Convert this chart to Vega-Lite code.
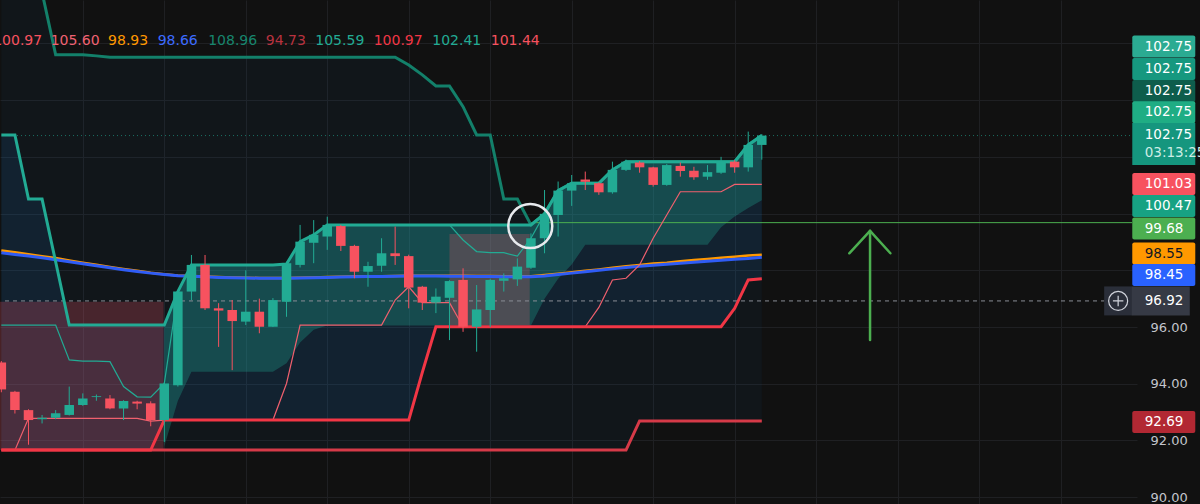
{
"$schema": "https://vega.github.io/schema/vega-lite/v6.json",
"width": 1137, "height": 504,
"autosize": {"type": "none"},
"padding": {"left": 0, "top": 0, "right": 63, "bottom": 0},
"background": "#111111",
"config": {"view": {"stroke": null}, "font": "DejaVu Sans"},
"data": {"values": [{}]},
"resolve": {"scale": {"color": "independent"}},
"datasets": {
"candles": [
{"i":-1,"o":94.75,"h":94.8,"l":93.7,"c":93.8},
{"i":0,"o":93.72,"h":93.75,"l":92.95,"c":93.07},
{"i":1,"o":93.07,"h":93.1,"l":91.85,"c":92.72},
{"i":2,"o":92.75,"h":92.9,"l":92.6,"c":92.8},
{"i":3,"o":92.8,"h":93.07,"l":92.75,"c":92.96},
{"i":4,"o":92.9,"h":93.9,"l":92.88,"c":93.25},
{"i":5,"o":93.25,"h":93.66,"l":93.22,"c":93.48},
{"i":6,"o":93.53,"h":93.62,"l":93.4,"c":93.56},
{"i":7,"o":93.48,"h":93.6,"l":93.1,"c":93.13},
{"i":8,"o":93.13,"h":93.42,"l":92.72,"c":93.39},
{"i":9,"o":93.37,"h":93.4,"l":93.1,"c":93.3},
{"i":10,"o":93.31,"h":93.38,"l":92.5,"c":92.72},
{"i":11,"o":92.72,"h":94.05,"l":91.95,"c":94.01},
{"i":12,"o":93.95,"h":97.3,"l":93.9,"c":97.25},
{"i":13,"o":97.25,"h":98.54,"l":96.95,"c":98.19},
{"i":14,"o":98.19,"h":98.54,"l":96.6,"c":96.66},
{"i":15,"o":96.66,"h":96.84,"l":95.3,"c":96.58},
{"i":16,"o":96.6,"h":96.95,"l":94.48,"c":96.21},
{"i":17,"o":96.19,"h":98.0,"l":96.07,"c":96.54},
{"i":18,"o":96.54,"h":97.0,"l":95.78,"c":96.01},
{"i":19,"o":96.01,"h":97.02,"l":96.0,"c":96.95},
{"i":20,"o":96.89,"h":98.3,"l":96.36,"c":98.25},
{"i":21,"o":98.19,"h":99.6,"l":98.1,"c":99.01},
{"i":22,"o":98.97,"h":99.77,"l":98.25,"c":99.25},
{"i":23,"o":99.19,"h":99.89,"l":98.72,"c":99.6},
{"i":24,"o":99.56,"h":99.6,"l":98.68,"c":98.86},
{"i":25,"o":98.86,"h":98.9,"l":97.72,"c":97.95},
{"i":26,"o":97.95,"h":98.3,"l":97.42,"c":98.15},
{"i":27,"o":98.16,"h":99.13,"l":97.95,"c":98.6},
{"i":28,"o":98.6,"h":99.54,"l":98.19,"c":98.5},
{"i":29,"o":98.5,"h":98.55,"l":96.66,"c":97.39},
{"i":30,"o":97.42,"h":97.45,"l":96.6,"c":96.86},
{"i":31,"o":96.86,"h":97.36,"l":96.49,"c":97.07},
{"i":32,"o":97.03,"h":97.65,"l":95.54,"c":97.62},
{"i":33,"o":97.66,"h":98.07,"l":95.83,"c":96.01},
{"i":34,"o":96.01,"h":97.48,"l":95.13,"c":96.62},
{"i":35,"o":96.6,"h":97.7,"l":96.0,"c":97.66},
{"i":36,"o":97.63,"h":97.89,"l":97.25,"c":97.72},
{"i":37,"o":97.68,"h":98.42,"l":97.45,"c":98.13},
{"i":38,"o":98.09,"h":99.3,"l":98.05,"c":99.13},
{"i":39,"o":99.13,"h":100.83,"l":98.6,"c":99.99},
{"i":40,"o":99.95,"h":101.13,"l":99.19,"c":100.81},
{"i":41,"o":100.81,"h":101.36,"l":100.27,"c":101.07},
{"i":42,"o":101.2,"h":101.48,"l":100.83,"c":101.12},
{"i":43,"o":101.07,"h":101.1,"l":100.66,"c":100.75},
{"i":44,"o":100.75,"h":101.83,"l":100.7,"c":101.54},
{"i":45,"o":101.54,"h":101.9,"l":101.5,"c":101.83},
{"i":46,"o":101.8,"h":101.85,"l":101.44,"c":101.63},
{"i":47,"o":101.63,"h":101.65,"l":100.95,"c":101.01},
{"i":48,"o":101.01,"h":101.75,"l":100.98,"c":101.71},
{"i":49,"o":101.68,"h":101.8,"l":101.3,"c":101.5},
{"i":50,"o":101.51,"h":101.65,"l":101.19,"c":101.28},
{"i":51,"o":101.3,"h":101.71,"l":101.19,"c":101.46},
{"i":52,"o":101.44,"h":102.0,"l":101.4,"c":101.83},
{"i":53,"o":101.83,"h":101.88,"l":101.44,"c":101.63},
{"i":54,"o":101.63,"h":102.89,"l":101.48,"c":102.42},
{"i":55,"o":102.42,"h":102.8,"l":101.9,"c":102.75}
],
"ch": [
{"i":-1,"u1":108.96,"u2":102.77,"t":96.07,"r1":91.66,"r2":91.66,"p":91.66,"b":98.62,"o":98.7},
{"i":0,"u1":108.96,"u2":102.77,"t":96.07,"r1":91.66,"r2":91.66,"p":91.66,"b":98.56,"o":98.64},
{"i":1,"u1":108.96,"u2":100.51,"t":96.07,"r1":91.66,"r2":91.66,"p":92.78,"b":98.5,"o":98.57},
{"i":2,"u1":107.8,"u2":100.51,"t":96.07,"r1":91.66,"r2":91.66,"p":92.78,"b":98.44,"o":98.5},
{"i":3,"u1":105.6,"u2":98.3,"t":96.07,"r1":91.66,"r2":91.66,"p":92.78,"b":98.37,"o":98.43},
{"i":4,"u1":105.6,"u2":96.07,"t":94.84,"r1":91.66,"r2":91.66,"p":92.78,"b":98.3,"o":98.35},
{"i":5,"u1":105.6,"u2":96.07,"t":94.8,"r1":91.66,"r2":91.66,"p":92.78,"b":98.23,"o":98.27},
{"i":6,"u1":105.56,"u2":96.07,"t":94.8,"r1":91.66,"r2":91.66,"p":92.78,"b":98.16,"o":98.2},
{"i":7,"u1":105.51,"u2":96.07,"t":94.78,"r1":91.66,"r2":91.66,"p":92.78,"b":98.09,"o":98.12},
{"i":8,"u1":105.51,"u2":96.07,"t":93.9,"r1":91.66,"r2":91.66,"p":92.78,"b":98.02,"o":98.05},
{"i":9,"u1":105.51,"u2":96.07,"t":93.54,"r1":91.66,"r2":91.66,"p":92.78,"b":97.96,"o":97.98},
{"i":10,"u1":105.51,"u2":96.07,"t":93.53,"r1":91.66,"r2":91.66,"p":92.68,"b":97.9,"o":97.91},
{"i":11,"u1":105.51,"u2":96.07,"t":94.01,"r1":91.66,"r2":92.72,"p":92.72,"b":97.85,"o":97.86},
{"i":12,"u1":105.51,"u2":97.25,"t":97.25,"r1":91.66,"r2":92.72,"p":92.72,"b":97.81,"o":97.82},
{"i":13,"u1":105.51,"u2":98.19,"t":98.19,"r1":91.66,"r2":92.72,"p":92.72,"b":97.79,"o":97.8},
{"i":14,"u1":105.51,"u2":98.19,"t":98.19,"r1":91.66,"r2":92.72,"p":92.72,"b":97.77,"o":97.78},
{"i":15,"u1":105.51,"u2":98.19,"t":98.19,"r1":91.66,"r2":92.72,"p":92.72,"b":97.75,"o":97.76},
{"i":16,"u1":105.51,"u2":98.19,"t":98.19,"r1":91.66,"r2":92.72,"p":92.72,"b":97.74,"o":97.75},
{"i":17,"u1":105.51,"u2":98.19,"t":98.19,"r1":91.66,"r2":92.72,"p":92.72,"b":97.73,"o":97.74},
{"i":18,"u1":105.51,"u2":98.19,"t":98.19,"r1":91.66,"r2":92.72,"p":92.72,"b":97.72,"o":97.73},
{"i":19,"u1":105.51,"u2":98.19,"t":98.19,"r1":91.66,"r2":92.72,"p":92.72,"b":97.72,"o":97.73},
{"i":20,"u1":105.51,"u2":98.22,"t":98.22,"r1":91.66,"r2":92.72,"p":94.01,"b":97.72,"o":97.73},
{"i":21,"u1":105.51,"u2":99.01,"t":99.01,"r1":91.66,"r2":92.72,"p":96.07,"b":97.73,"o":97.74},
{"i":22,"u1":105.51,"u2":99.25,"t":99.25,"r1":91.66,"r2":92.72,"p":96.07,"b":97.74,"o":97.75},
{"i":23,"u1":105.51,"u2":99.6,"t":99.6,"r1":91.66,"r2":92.72,"p":96.07,"b":97.75,"o":97.76},
{"i":24,"u1":105.51,"u2":99.6,"t":99.6,"r1":91.66,"r2":92.72,"p":96.07,"b":97.76,"o":97.77},
{"i":25,"u1":105.51,"u2":99.6,"t":99.6,"r1":91.66,"r2":92.72,"p":96.07,"b":97.77,"o":97.78},
{"i":26,"u1":105.51,"u2":99.6,"t":99.6,"r1":91.66,"r2":92.72,"p":96.07,"b":97.78,"o":97.79},
{"i":27,"u1":105.51,"u2":99.6,"t":99.6,"r1":91.66,"r2":92.72,"p":96.07,"b":97.78,"o":97.79},
{"i":28,"u1":105.51,"u2":99.6,"t":99.6,"r1":91.66,"r2":92.72,"p":96.95,"b":97.79,"o":97.8},
{"i":29,"u1":105.24,"u2":99.6,"t":99.6,"r1":91.66,"r2":92.72,"p":97.42,"b":97.8,"o":97.81},
{"i":30,"u1":104.89,"u2":99.6,"t":99.6,"r1":91.66,"r2":94.4,"p":96.86,"b":97.8,"o":97.81},
{"i":31,"u1":104.5,"u2":99.6,"t":99.6,"r1":91.66,"r2":96.01,"p":96.86,"b":97.8,"o":97.81},
{"i":32,"u1":104.5,"u2":99.6,"t":99.6,"r1":91.66,"r2":96.01,"p":96.86,"b":97.79,"o":97.81},
{"i":33,"u1":103.77,"u2":99.6,"t":99.07,"r1":91.66,"r2":96.01,"p":96.01,"b":97.79,"o":97.81},
{"i":34,"u1":102.77,"u2":99.6,"t":98.66,"r1":91.66,"r2":96.01,"p":96.01,"b":97.78,"o":97.8},
{"i":35,"u1":102.77,"u2":99.6,"t":98.62,"r1":91.66,"r2":96.01,"p":96.01,"b":97.78,"o":97.8},
{"i":36,"u1":100.51,"u2":99.6,"t":98.62,"r1":91.66,"r2":96.01,"p":96.01,"b":97.77,"o":97.79},
{"i":37,"u1":100.51,"u2":99.6,"t":98.5,"r1":91.66,"r2":96.01,"p":96.01,"b":97.77,"o":97.79},
{"i":38,"u1":99.6,"u2":99.6,"t":99.13,"r1":91.66,"r2":96.01,"p":96.01,"b":97.77,"o":97.79},
{"i":39,"u1":99.99,"u2":99.99,"t":99.99,"r1":91.66,"r2":96.01,"p":96.01,"b":97.8,"o":97.83},
{"i":40,"u1":100.81,"u2":100.81,"t":100.81,"r1":91.66,"r2":96.01,"p":96.01,"b":97.85,"o":97.88},
{"i":41,"u1":101.07,"u2":101.07,"t":101.07,"r1":91.66,"r2":96.01,"p":96.01,"b":97.9,"o":97.93},
{"i":42,"u1":101.07,"u2":101.07,"t":101.07,"r1":91.66,"r2":96.01,"p":96.01,"b":97.95,"o":97.98},
{"i":43,"u1":101.07,"u2":101.07,"t":101.07,"r1":91.66,"r2":96.01,"p":96.69,"b":98.0,"o":98.03},
{"i":44,"u1":101.54,"u2":101.54,"t":101.54,"r1":91.66,"r2":96.01,"p":97.66,"b":98.05,"o":98.09},
{"i":45,"u1":101.83,"u2":101.83,"t":101.83,"r1":91.66,"r2":96.01,"p":97.72,"b":98.1,"o":98.14},
{"i":46,"u1":101.83,"u2":101.83,"t":101.83,"r1":92.69,"r2":96.01,"p":98.19,"b":98.14,"o":98.19},
{"i":47,"u1":101.83,"u2":101.83,"t":101.83,"r1":92.69,"r2":96.01,"p":99.13,"b":98.18,"o":98.24},
{"i":48,"u1":101.83,"u2":101.83,"t":101.83,"r1":92.69,"r2":96.01,"p":99.95,"b":98.21,"o":98.27},
{"i":49,"u1":101.83,"u2":101.83,"t":101.83,"r1":92.69,"r2":96.01,"p":100.77,"b":98.25,"o":98.32},
{"i":50,"u1":101.83,"u2":101.83,"t":101.83,"r1":92.69,"r2":96.01,"p":100.77,"b":98.28,"o":98.36},
{"i":51,"u1":101.83,"u2":101.83,"t":101.83,"r1":92.69,"r2":96.01,"p":100.77,"b":98.32,"o":98.4},
{"i":52,"u1":101.83,"u2":101.83,"t":101.83,"r1":92.69,"r2":96.01,"p":100.77,"b":98.35,"o":98.44},
{"i":53,"u1":101.83,"u2":101.83,"t":101.83,"r1":92.69,"r2":96.66,"p":101.03,"b":98.39,"o":98.48},
{"i":54,"u1":102.42,"u2":102.42,"t":102.42,"r1":92.69,"r2":97.66,"p":101.03,"b":98.42,"o":98.52},
{"i":55,"u1":102.75,"u2":102.75,"t":102.75,"r1":92.69,"r2":97.7,"p":101.03,"b":98.46,"o":98.55}
],
"mid": [
{"i":11,"u2":96.07,"m":91.8},{"i":12,"u2":97.25,"m":93.4},{"i":13,"u2":98.19,"m":94.42},
{"i":19,"u2":98.19,"m":94.42},{"i":20,"u2":98.22,"m":94.72},{"i":21,"u2":99.01,"m":95.45},
{"i":22,"u2":99.25,"m":95.9},{"i":23,"u2":99.6,"m":96.05},{"i":38,"u2":99.6,"m":96.05},
{"i":39,"u2":99.99,"m":97.0},{"i":40,"u2":100.81,"m":97.7},{"i":41,"u2":101.07,"m":98.2},
{"i":42,"u2":101.07,"m":98.9},{"i":43,"u2":101.07,"m":98.9},{"i":44,"u2":101.54,"m":98.9},
{"i":45,"u2":101.83,"m":98.9},{"i":51,"u2":101.83,"m":98.9},{"i":52,"u2":101.83,"m":99.52},
{"i":53,"u2":101.83,"m":99.9},{"i":54,"u2":102.42,"m":100.2},{"i":55,"u2":102.75,"m":100.47}
],
"boxes": [
{"i0":-1.5,"i1":10.95,"p0":96.89,"p1":91.66},
{"i0":32.0,"i1":37.91,"p0":99.28,"p1":96.07}
],
"arrow": [
{"g":"s","n":0,"i":62.97,"p":95.54},{"g":"s","n":1,"i":62.97,"p":99.39},
{"g":"h","n":0,"i":61.44,"p":98.6},{"g":"h","n":1,"i":62.97,"p":99.39},{"g":"h","n":2,"i":64.47,"p":98.6}
],
"leg": [
{"i":-1.6,"s":"a","v":"100.97"},{"i":2.63,"s":"b","v":"105.60"},{"i":6.86,"s":"c","v":"98.93"},
{"i":10.51,"s":"d","v":"98.66"},{"i":14.23,"s":"e","v":"108.96"},{"i":18.47,"s":"f","v":"94.73"},
{"i":22.12,"s":"g","v":"105.59"},{"i":26.42,"s":"h","v":"100.97"},{"i":30.73,"s":"j","v":"102.41"},
{"i":35.04,"s":"k","v":"101.44"}
],
"tags": [
{"k":"t1","v":"102.75","at":105.89},{"k":"t2","v":"102.75","at":105.1},
{"k":"t3","v":"102.75","at":104.32},{"k":"t4","v":"102.75","at":103.57},
{"k":"t6","v":"101.03","at":101.04},{"k":"t7","v":"100.47","at":100.27},
{"k":"t8","v":"99.68","at":99.47},{"k":"t9","v":"98.55","at":98.59},
{"k":"t10","v":"98.45","at":97.83},{"k":"t12","v":"92.69","at":92.65}
]
},
"layer": [
{"data": {"name": "ch"}, "mark": {"type": "area", "color": "#2196f3", "opacity": 0.04},
 "encoding": {
  "x": {"field": "i", "type": "quantitative", "scale": {"domain": [-0.73, 82.26], "nice": false, "zero": false},
        "axis": {"values": [5,11,17,23,29,35,41,47,53,59,65,71,77], "grid": true, "gridColor": "#1f2023", "labels": false, "ticks": false, "domain": false, "title": null}},
  "y": {"field": "u1", "type": "quantitative", "scale": {"domain": [89.76, 107.53], "nice": false, "zero": false},
        "axis": {"orient": "right", "values": [90,92,94,96,98,100,102,104,106], "format": ".2f", "labelExpr": "datum.value <= 96 ? datum.label : ''", "grid": true, "gridColor": "#1f2023", "ticks": false, "tickSize": 0, "domain": false, "title": null, "labelAlign": "left", "labelBaseline": "middle", "labelPadding": 13, "labelColor": "#c3c5cc", "labelFontSize": 13, "labelFont": "DejaVu Sans"}},
  "y2": {"field": "r1"}}},
{"data": {"name": "ch"}, "mark": {"type": "area", "color": "#2196f3", "opacity": 0.1},
 "encoding": {"x": {"field": "i", "type": "quantitative"}, "y": {"field": "u2", "type": "quantitative"}, "y2": {"field": "r2"}}},
{"data": {"name": "mid"}, "mark": {"type": "area", "color": "#22ab94", "opacity": 0.3},
 "encoding": {"x": {"field": "i", "type": "quantitative"}, "y": {"field": "u2", "type": "quantitative"}, "y2": {"field": "m"}}},
{"data": {"name": "boxes"}, "mark": {"type": "rect", "color": "#ee5366", "opacity": 0.25},
 "encoding": {"x": {"field": "i0", "type": "quantitative"}, "x2": {"field": "i1"}, "y": {"field": "p0", "type": "quantitative"}, "y2": {"field": "p1"}}},
{"mark": {"type": "rule", "color": "#8a8d96", "strokeDash": [4, 4], "strokeWidth": 1},
 "encoding": {"x": {"datum": -0.73, "type": "quantitative"}, "x2": {"datum": 80.22}, "y": {"datum": 96.92, "type": "quantitative"}}},
{"mark": {"type": "rule", "color": "#22ab94", "opacity": 0.6, "strokeDash": [1, 3], "strokeWidth": 1},
 "encoding": {"x": {"datum": -0.73, "type": "quantitative"}, "x2": {"datum": 82.26}, "y": {"datum": 102.75, "type": "quantitative"}}},
{"mark": {"type": "rule", "color": "#4caf50", "strokeWidth": 1},
 "encoding": {"x": {"datum": 37.95, "type": "quantitative"}, "x2": {"datum": 82.26}, "y": {"datum": 99.68, "type": "quantitative"}}},
{"data": {"name": "ch"}, "mark": {"type": "line", "color": "#ff9800", "strokeWidth": 2.5},
 "encoding": {"x": {"field": "i", "type": "quantitative"}, "y": {"field": "o", "type": "quantitative"}}},
{"data": {"name": "ch"}, "mark": {"type": "line", "color": "#2f5cf5", "strokeWidth": 3},
 "encoding": {"x": {"field": "i", "type": "quantitative"}, "y": {"field": "b", "type": "quantitative"}}},
{"data": {"name": "ch"}, "mark": {"type": "line", "color": "#22ab94", "strokeWidth": 1.2},
 "encoding": {"x": {"field": "i", "type": "quantitative"}, "y": {"field": "t", "type": "quantitative"}}},
{"data": {"name": "ch"}, "mark": {"type": "line", "color": "#f0606e", "strokeWidth": 1.2},
 "encoding": {"x": {"field": "i", "type": "quantitative"}, "y": {"field": "p", "type": "quantitative"}}},
{"data": {"name": "ch"}, "mark": {"type": "line", "color": "#d63a48", "strokeWidth": 3},
 "encoding": {"x": {"field": "i", "type": "quantitative"}, "y": {"field": "r1", "type": "quantitative"}}},
{"data": {"name": "ch"}, "mark": {"type": "line", "color": "#f23645", "strokeWidth": 3},
 "encoding": {"x": {"field": "i", "type": "quantitative"}, "y": {"field": "r2", "type": "quantitative"}}},
{"data": {"name": "ch"}, "mark": {"type": "line", "color": "#13806a", "strokeWidth": 3},
 "encoding": {"x": {"field": "i", "type": "quantitative"}, "y": {"field": "u1", "type": "quantitative"}}},
{"data": {"name": "ch"}, "mark": {"type": "line", "color": "#22ab94", "strokeWidth": 3},
 "encoding": {"x": {"field": "i", "type": "quantitative"}, "y": {"field": "u2", "type": "quantitative"}}},
{"data": {"name": "candles"}, "mark": {"type": "rule", "strokeWidth": 1},
 "encoding": {"x": {"field": "i", "type": "quantitative"}, "y": {"field": "l", "type": "quantitative"}, "y2": {"field": "h"},
  "color": {"condition": {"test": "datum.c >= datum.o", "value": "#22ab94"}, "value": "#f7525f"}}},
{"data": {"name": "candles"}, "mark": {"type": "bar", "size": 9.5},
 "encoding": {"x": {"field": "i", "type": "quantitative"}, "y": {"field": "o", "type": "quantitative"}, "y2": {"field": "c"},
  "color": {"condition": {"test": "datum.c >= datum.o", "value": "#22ab94"}, "value": "#f7525f"}}},
{"mark": {"type": "point", "shape": "circle", "size": 1936, "filled": false, "stroke": "#e8eaee", "strokeWidth": 2.5, "opacity": 1},
 "encoding": {"x": {"datum": 37.95, "type": "quantitative"}, "y": {"datum": 99.56, "type": "quantitative"}}},
{"data": {"name": "arrow"}, "mark": {"type": "line", "color": "#4caf50", "strokeWidth": 2.5, "strokeCap": "round", "strokeJoin": "round"},
 "encoding": {"x": {"field": "i", "type": "quantitative"}, "y": {"field": "p", "type": "quantitative"}, "detail": {"field": "g"}, "order": {"field": "n"}}},
{"data": {"name": "leg"}, "mark": {"type": "text", "align": "left", "baseline": "middle", "fontSize": 14, "font": "DejaVu Sans"},
 "encoding": {"x": {"field": "i", "type": "quantitative"}, "y": {"datum": 106.09, "type": "quantitative"}, "text": {"field": "v"},
  "color": {"field": "s", "type": "nominal", "legend": null,
   "scale": {"domain": ["a","b","c","d","e","f","g","h","j","k"], "range": ["#f7525f","#f06272","#ff9800","#3d6bff","#17856d","#b8323f","#22ab94","#f23645","#22ab94","#f7525f"]}}}},
{"data": {"name": "tags"}, "mark": {"type": "tick", "orient": "horizontal", "size": 63, "thickness": 22, "opacity": 1, "clip": false, "cornerRadius": 2},
 "encoding": {"x": {"datum": 84.6, "type": "quantitative"}, "y": {"field": "at", "type": "quantitative"},
  "color": {"field": "k", "type": "nominal", "legend": null,
   "scale": {"domain": ["t1","t2","t3","t4","t6","t7","t8","t9","t10","t12"], "range": ["#2bab92","#16987f","#0e5d4c","#1fad84","#f7525f","#17a283","#4caf50","#ff9800","#2962ff","#b22833"]}}}},
{"mark": {"type": "tick", "orient": "horizontal", "size": 63, "thickness": 42, "color": "#15967e", "opacity": 1, "clip": false},
 "encoding": {"x": {"datum": 84.6, "type": "quantitative"}, "y": {"datum": 102.45, "type": "quantitative"}}},
{"mark": {"type": "tick", "orient": "horizontal", "size": 28, "thickness": 29, "color": "#2a2e39", "opacity": 1, "clip": false},
 "encoding": {"x": {"datum": 81.24, "type": "quantitative"}, "y": {"datum": 96.92, "type": "quantitative"}}},
{"mark": {"type": "tick", "orient": "horizontal", "size": 58, "thickness": 29, "color": "#363a45", "opacity": 1, "clip": false},
 "encoding": {"x": {"datum": 84.38, "type": "quantitative"}, "y": {"datum": 96.92, "type": "quantitative"}}},
{"mark": {"type": "point", "shape": "circle", "size": 361, "filled": false, "stroke": "#d1d4dc", "strokeWidth": 1.2, "opacity": 1, "clip": false},
 "encoding": {"x": {"datum": 81.24, "type": "quantitative"}, "y": {"datum": 96.92, "type": "quantitative"}}},
{"mark": {"type": "point", "shape": "M-0.55,0H0.55M0,-0.55V0.55", "size": 361, "filled": false, "stroke": "#d1d4dc", "strokeWidth": 1.2, "opacity": 1, "clip": false},
 "encoding": {"x": {"datum": 81.24, "type": "quantitative"}, "y": {"datum": 96.92, "type": "quantitative"}}},
{"data": {"name": "tags"}, "mark": {"type": "text", "align": "left", "baseline": "middle", "fontSize": 13.5, "font": "DejaVu Sans", "clip": false},
 "encoding": {"x": {"datum": 83.2, "type": "quantitative"}, "y": {"field": "at", "type": "quantitative"}, "text": {"field": "v"},
  "color": {"condition": {"test": "datum.k === 't9'", "value": "#131722"}, "value": "#ffffff"}}},
{"mark": {"type": "text", "align": "left", "baseline": "middle", "fontSize": 13.5, "font": "DejaVu Sans", "color": "#ffffff", "clip": false, "text": "102.75"},
 "encoding": {"x": {"datum": 83.2, "type": "quantitative"}, "y": {"datum": 102.77, "type": "quantitative"}}},
{"mark": {"type": "text", "align": "left", "baseline": "middle", "fontSize": 13.5, "font": "DejaVu Sans", "color": "#cdeee6", "clip": false, "text": "03:13:25"},
 "encoding": {"x": {"datum": 83.2, "type": "quantitative"}, "y": {"datum": 102.14, "type": "quantitative"}}},
{"mark": {"type": "text", "align": "left", "baseline": "middle", "fontSize": 13.5, "font": "DejaVu Sans", "color": "#ffffff", "clip": false, "text": "96.92"},
 "encoding": {"x": {"datum": 83.2, "type": "quantitative"}, "y": {"datum": 96.92, "type": "quantitative"}}}
]
}
